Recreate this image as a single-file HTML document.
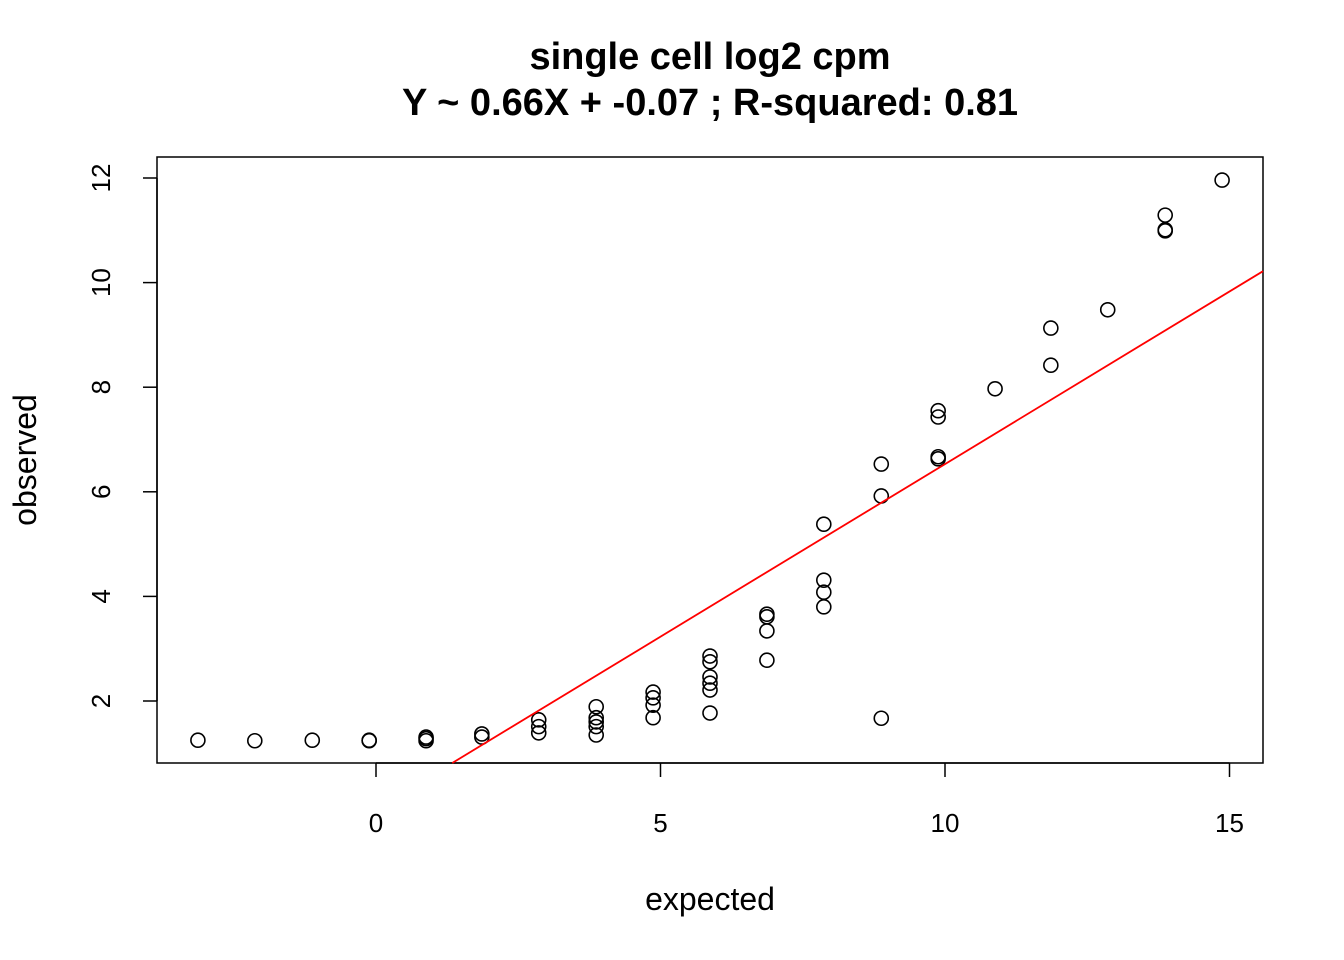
<!DOCTYPE html>
<html><head><meta charset="utf-8"><style>
html,body{margin:0;padding:0;background:#fff;}
svg{display:block;font-family:"Liberation Sans",Arial,sans-serif;}
</style></head><body>
<svg id="chart" width="1344" height="960" viewBox="0 0 1344 960">
<text x="710" y="69" text-anchor="middle" font-size="38" font-weight="bold">single cell log2 cpm</text>
<text x="710" y="115" text-anchor="middle" font-size="38" font-weight="bold">Y ~ 0.66X + -0.07 ; R-squared: 0.81</text>
<rect x="157" y="157" width="1106" height="606" fill="none" stroke="#000" stroke-width="1.5"/>
<g id="xaxis"></g>
<g id="yaxis"></g>
<text x="710" y="910" text-anchor="middle" font-size="32">expected</text>
<text transform="translate(36,460) rotate(-90)" text-anchor="middle" font-size="32">observed</text>
<g id="points"></g>
<line id="fit" stroke="#ff0000" stroke-width="1.8"/>
</svg>
<script>
const xTicks=[0,5,10,15];
const yTicks=[2,4,6,8,10,12];
const xVals=[-3.13,-2.13,-1.12,-0.12,-0.12,0.88,0.88,0.88,1.86,1.86,2.86,2.86,2.86,3.87,3.87,3.87,3.87,3.87,4.87,4.87,4.87,4.87,5.87,5.87,5.87,5.87,5.87,5.87,6.87,6.87,6.87,6.87,7.87,7.87,7.87,7.87,8.88,8.88,8.88,9.88,9.88,9.88,9.88,10.88,11.86,11.86,12.86,13.87,13.87,13.87,14.87];
const yVals=[1.25,1.24,1.25,1.25,1.24,1.31,1.24,1.28,1.37,1.31,1.64,1.51,1.39,1.89,1.68,1.60,1.51,1.35,2.17,2.06,1.92,1.68,2.86,2.75,2.46,2.34,2.21,1.77,3.66,3.61,3.34,2.78,5.38,4.31,4.08,3.80,6.53,5.92,1.67,7.55,7.43,6.67,6.63,7.97,9.13,8.42,9.48,11.29,11.01,10.99,11.96];
const slope=0.66, intercept=-0.07;
const NS='http://www.w3.org/2000/svg';
const X0=157,X1=1263,Y0=157,Y1=763;
const sx=v=>376+v*56.9;
const sy=v=>178+(12-v)*52.3;
const ix=v=>(v-376)/56.9;
function mk(t,a,p){const e=document.createElementNS(NS,t);for(const k in a)e.setAttribute(k,a[k]);p.appendChild(e);return e;}
const xa=document.getElementById('xaxis');
mk('line',{x1:sx(0),x2:sx(15),y1:Y1,y2:Y1,stroke:'#000','stroke-width':1.5},xa);
xTicks.forEach(t=>{
  const l=mk('line',{x1:sx(t),x2:sx(t),y1:Y1,y2:Y1+14,stroke:'#000','stroke-width':1.5},xa);
  
  
  const tx=mk('text',{x:sx(t),y:832,'text-anchor':'middle','font-size':26},xa);
  tx.textContent=t;
  
  
});
const ya=document.getElementById('yaxis');
mk('line',{x1:X0,x2:X0,y1:sy(2),y2:sy(12),stroke:'#000','stroke-width':1.5},ya);
yTicks.forEach(t=>{
  const l=mk('line',{x1:X0-14,x2:X0,y1:sy(t),y2:sy(t),stroke:'#000','stroke-width':1.5},ya);
  
  
  const tx=mk('text',{transform:`translate(110,${sy(t)}) rotate(-90)`,'text-anchor':'middle','font-size':26},ya);
  tx.textContent=t;
  
  
});
const pg=document.getElementById('points');
xVals.forEach((x,i)=>{
  const c=mk('circle',{cx:sx(x),cy:sy(yVals[i]),r:7,fill:'none',stroke:'#000','stroke-width':1.6},pg);
  
  
});
let xa0=ix(X0), xa1=ix(X1);
let ymin=12-(Y1-178)/52.3;
let xs=Math.max(xa0,(ymin-intercept)/slope);
const f=document.getElementById('fit');
f.setAttribute('x1',sx(xs));f.setAttribute('y1',sy(slope*xs+intercept));
f.setAttribute('x2',sx(xa1));f.setAttribute('y2',sy(slope*xa1+intercept));
</script>
</body></html>
